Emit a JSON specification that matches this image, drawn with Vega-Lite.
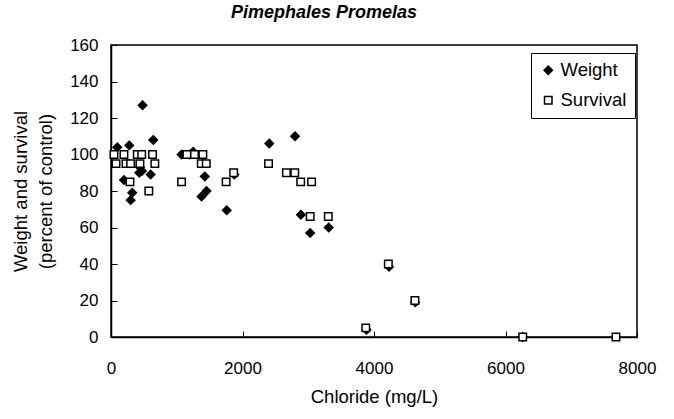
{
  "$schema": "https://vega.github.io/schema/vega-lite/v6.json",
  "width": 526,
  "height": 292,
  "autosize": "none",
  "padding": {"left": 111, "top": 45, "right": 37, "bottom": 82},
  "background": "white",
  "title": {"text": "Pimephales Promelas", "font": "Liberation Sans", "fontSize": 18, "fontWeight": "bold", "fontStyle": "italic", "color": "black", "anchor": "middle", "offset": 14, "dx": -50},
  "config": {
    "view": {"stroke": "black", "strokeWidth": 1.5},
    "font": "Liberation Sans"
  },
  "data": {"values": [
    {"chloride": 96, "pct": 104, "series": "Weight"},
    {"chloride": 278, "pct": 105, "series": "Weight"},
    {"chloride": 480, "pct": 127, "series": "Weight"},
    {"chloride": 643, "pct": 108, "series": "Weight"},
    {"chloride": 197, "pct": 86, "series": "Weight"},
    {"chloride": 440, "pct": 93, "series": "Weight"},
    {"chloride": 430, "pct": 90, "series": "Weight"},
    {"chloride": 470, "pct": 91, "series": "Weight"},
    {"chloride": 603, "pct": 89, "series": "Weight"},
    {"chloride": 323, "pct": 79, "series": "Weight"},
    {"chloride": 299, "pct": 75, "series": "Weight"},
    {"chloride": 1073, "pct": 100, "series": "Weight"},
    {"chloride": 1250, "pct": 101.5, "series": "Weight"},
    {"chloride": 1200, "pct": 100, "series": "Weight"},
    {"chloride": 1427, "pct": 88, "series": "Weight"},
    {"chloride": 1453, "pct": 80, "series": "Weight"},
    {"chloride": 1377, "pct": 77, "series": "Weight"},
    {"chloride": 1760, "pct": 69.5, "series": "Weight"},
    {"chloride": 1876, "pct": 89, "series": "Weight"},
    {"chloride": 2407, "pct": 106, "series": "Weight"},
    {"chloride": 2799, "pct": 110, "series": "Weight"},
    {"chloride": 2888, "pct": 67, "series": "Weight"},
    {"chloride": 3029, "pct": 57, "series": "Weight"},
    {"chloride": 3311, "pct": 60, "series": "Weight"},
    {"chloride": 3885, "pct": 4, "series": "Weight"},
    {"chloride": 4228, "pct": 38.5, "series": "Weight"},
    {"chloride": 4628, "pct": 19, "series": "Weight"},
    {"chloride": 6262, "pct": 0, "series": "Weight"},
    {"chloride": 45, "pct": 100, "series": "Survival"},
    {"chloride": 197, "pct": 100, "series": "Survival"},
    {"chloride": 76, "pct": 95, "series": "Survival"},
    {"chloride": 228, "pct": 95, "series": "Survival"},
    {"chloride": 298, "pct": 95, "series": "Survival"},
    {"chloride": 400, "pct": 100, "series": "Survival"},
    {"chloride": 467, "pct": 100, "series": "Survival"},
    {"chloride": 632, "pct": 100, "series": "Survival"},
    {"chloride": 440, "pct": 95, "series": "Survival"},
    {"chloride": 667, "pct": 95, "series": "Survival"},
    {"chloride": 288, "pct": 85, "series": "Survival"},
    {"chloride": 575, "pct": 80, "series": "Survival"},
    {"chloride": 1073, "pct": 85, "series": "Survival"},
    {"chloride": 1154, "pct": 100, "series": "Survival"},
    {"chloride": 1270, "pct": 100, "series": "Survival"},
    {"chloride": 1397, "pct": 100, "series": "Survival"},
    {"chloride": 1373, "pct": 95, "series": "Survival"},
    {"chloride": 1449, "pct": 95, "series": "Survival"},
    {"chloride": 1751, "pct": 85, "series": "Survival"},
    {"chloride": 1866, "pct": 90, "series": "Survival"},
    {"chloride": 2396, "pct": 95, "series": "Survival"},
    {"chloride": 2668, "pct": 90, "series": "Survival"},
    {"chloride": 2795, "pct": 90, "series": "Survival"},
    {"chloride": 2885, "pct": 85, "series": "Survival"},
    {"chloride": 3051, "pct": 85, "series": "Survival"},
    {"chloride": 3029, "pct": 66, "series": "Survival"},
    {"chloride": 3305, "pct": 66, "series": "Survival"},
    {"chloride": 3875, "pct": 5, "series": "Survival"},
    {"chloride": 4218, "pct": 40, "series": "Survival"},
    {"chloride": 4622, "pct": 20, "series": "Survival"},
    {"chloride": 6262, "pct": 0, "series": "Survival"},
    {"chloride": 7680, "pct": 0, "series": "Survival"}
  ]},
  "mark": {"type": "point", "filled": false, "stroke": "black", "strokeWidth": 1.5, "opacity": 1, "clip": false},
  "encoding": {
    "x": {"field": "chloride", "type": "quantitative", "scale": {"domain": [0, 8000], "nice": false},
      "axis": {"title": "Chloride (mg/L)", "values": [0, 2000, 4000, 6000, 8000], "format": "d", "labelFlush": false, "grid": false,
        "domainColor": "black", "domainWidth": 1.5, "tickColor": "black", "tickSize": -6, "tickWidth": 1,
        "labelFont": "Liberation Sans", "labelFontSize": 17, "labelColor": "black", "labelPadding": 29,
        "titleFont": "Liberation Sans", "titleFontSize": 18.5, "titleFontWeight": "normal", "titleColor": "black", "titlePadding": 11}},
    "y": {"field": "pct", "type": "quantitative", "scale": {"domain": [0, 160], "nice": false},
      "axis": {"title": ["Weight and survival", "(percent of control)"], "values": [0, 20, 40, 60, 80, 100, 120, 140, 160], "labelFlush": false, "grid": false,
        "domainColor": "black", "domainWidth": 1.5, "tickColor": "black", "tickSize": -6, "tickWidth": 1,
        "labelFont": "Liberation Sans", "labelFontSize": 17, "labelColor": "black", "labelPadding": 19,
        "titleFont": "Liberation Sans", "titleFontSize": 18.5, "titleFontWeight": "normal", "titleColor": "black", "titlePadding": 14, "titleLineHeight": 25}},
    "shape": {"field": "series", "type": "nominal", "scale": {"domain": ["Weight", "Survival"], "range": ["diamond", "square"]},
      "legend": {"title": null, "orient": "none", "legendX": 420, "legendY": 8, "strokeColor": "black", "fillColor": "white", "padding": 8,
        "labelFont": "Liberation Sans", "labelFontSize": 18.5, "labelColor": "black", "rowPadding": 11, "symbolStrokeColor": "black", "symbolStrokeWidth": 1.5, "symbolSize": 45, "labelOffset": 3}},
    "fill": {"field": "series", "type": "nominal", "scale": {"domain": ["Weight", "Survival"], "range": ["black", "white"]}},
    "size": {"field": "series", "type": "nominal", "scale": {"domain": ["Weight", "Survival"], "range": [70, 56]}}
  }
}
